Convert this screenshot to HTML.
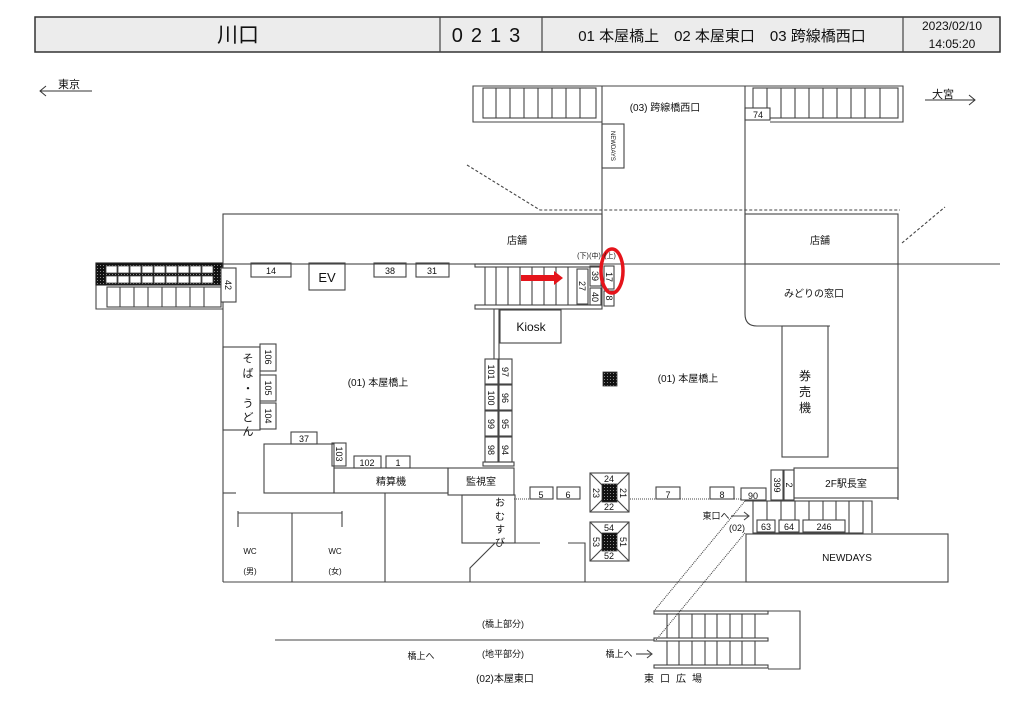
<!DOCTYPE html>
<html><head><meta charset="utf-8"><style>
html,body{margin:0;padding:0;background:#fff;}
svg{display:block;font-family:"Liberation Sans","Noto Sans CJK JP",sans-serif;}
</style></head><body>
<svg width="1024" height="724" viewBox="0 0 1024 724" xmlns="http://www.w3.org/2000/svg">
<defs>
<pattern id="dots" width="3" height="3" patternUnits="userSpaceOnUse"><rect width="3" height="3" fill="#111"/><rect x="1" y="1" width="1" height="1" fill="#888"/></pattern>
</defs>
<g fill="none" stroke="#444" stroke-width="1.2">
<!-- header -->
<rect x="35" y="17" width="965" height="35" fill="#ececec" stroke="#333" stroke-width="1.5"/>
<line x1="440" y1="17" x2="440" y2="52"/><line x1="542" y1="17" x2="542" y2="52"/><line x1="903" y1="17" x2="903" y2="52"/>
</g>
<g font-size="20" text-anchor="middle" fill="#111">
<text x="238" y="42" font-size="21">川口</text>
<text x="490" y="42" letter-spacing="8">0213</text>
<text x="722" y="41" font-size="15">01 本屋橋上　02 本屋東口　03 跨線橋西口</text>
<text x="952" y="30" font-size="12">2023/02/10</text>
<text x="952" y="48" font-size="12">14:05:20</text>
</g>
<g stroke="#333" stroke-width="1" fill="none">
<line x1="40" y1="91" x2="92" y2="91"/><polyline points="46,86 40,91 46,96"/>
<line x1="925" y1="100" x2="975" y2="100"/><polyline points="969,95 975,100 969,105"/>
</g>
<g font-size="11" fill="#111">
<text x="58" y="88">東京</text><text x="932" y="98">大宮</text>
</g>

<g fill="none" stroke="#444" stroke-width="1.1">
<!-- top stairs -->
<polyline points="602,86 473,86 473,122 602,122"/>
<rect x="483" y="88" width="113" height="30"/>
<line x1="496" y1="88" x2="496" y2="118"/><line x1="510" y1="88" x2="510" y2="118"/><line x1="524" y1="88" x2="524" y2="118"/><line x1="538" y1="88" x2="538" y2="118"/><line x1="552" y1="88" x2="552" y2="118"/><line x1="566" y1="88" x2="566" y2="118"/><line x1="580" y1="88" x2="580" y2="118"/>
<line x1="602" y1="86" x2="745" y2="86"/>
<polyline points="745,86 903,86 903,122 770,122"/>
<rect x="753" y="88" width="145" height="30"/>
<line x1="767" y1="88" x2="767" y2="118"/><line x1="781" y1="88" x2="781" y2="118"/><line x1="795" y1="88" x2="795" y2="118"/><line x1="809" y1="88" x2="809" y2="118"/><line x1="823" y1="88" x2="823" y2="118"/><line x1="837" y1="88" x2="837" y2="118"/><line x1="851" y1="88" x2="851" y2="118"/><line x1="865" y1="88" x2="865" y2="118"/><line x1="880" y1="88" x2="880" y2="118"/>
<rect x="745" y="108" width="25" height="12" fill="#fff"/>
<line x1="602" y1="86" x2="602" y2="306"/>
<path d="M745,86 V314 Q745,326 757,326 H830"/>
<rect x="602" y="124" width="22" height="44"/>
<!-- dashed -->
<polyline points="467,165 540,210 900,210" stroke-dasharray="3,2"/>
<line x1="902" y1="243" x2="945" y2="207" stroke-dasharray="3,2"/>
<!-- shops -->
<rect x="223" y="214" width="379" height="50"/>
<rect x="745" y="214" width="153" height="50"/>
<line x1="602" y1="264" x2="1000" y2="264"/>
<line x1="898" y1="264" x2="898" y2="500"/>
<line x1="223" y1="264" x2="223" y2="582"/>
<line x1="223" y1="582" x2="948" y2="582"/>
<!-- left stairs -->
<polyline points="223,309 96,309 96,263 223,263"/>
<rect x="96" y="263" width="126" height="22" fill="url(#dots)" stroke="#222"/>
</g>
<g fill="#fff" stroke="#444" stroke-width="0.8">
<rect x="106" y="266" width="11" height="7"/><rect x="118" y="266" width="11" height="7"/><rect x="130" y="266" width="11" height="7"/><rect x="142" y="266" width="11" height="7"/><rect x="154" y="266" width="11" height="7"/><rect x="166" y="266" width="11" height="7"/><rect x="178" y="266" width="11" height="7"/><rect x="190" y="266" width="11" height="7"/><rect x="202" y="266" width="11" height="7"/>
<rect x="106" y="276" width="11" height="7"/><rect x="118" y="276" width="11" height="7"/><rect x="130" y="276" width="11" height="7"/><rect x="142" y="276" width="11" height="7"/><rect x="154" y="276" width="11" height="7"/><rect x="166" y="276" width="11" height="7"/><rect x="178" y="276" width="11" height="7"/><rect x="190" y="276" width="11" height="7"/><rect x="202" y="276" width="11" height="7"/>
</g>
<g fill="none" stroke="#444" stroke-width="1.1">
<rect x="107" y="287" width="114" height="20"/>
<line x1="120" y1="287" x2="120" y2="307"/><line x1="134" y1="287" x2="134" y2="307"/><line x1="148" y1="287" x2="148" y2="307"/><line x1="162" y1="287" x2="162" y2="307"/><line x1="176" y1="287" x2="176" y2="307"/><line x1="190" y1="287" x2="190" y2="307"/><line x1="204" y1="287" x2="204" y2="307"/>
<rect x="221" y="268" width="15" height="34" fill="#fff"/>
<rect x="251" y="263" width="40" height="14"/>
<rect x="309" y="263" width="36" height="27"/>
<rect x="374" y="263" width="32" height="14"/>
<rect x="416" y="263" width="33" height="14"/>
<!-- center stairs -->
<rect x="475" y="264" width="127" height="3"/>
<rect x="475" y="305" width="127" height="4"/>
<line x1="485" y1="267" x2="485" y2="305"/><line x1="496" y1="267" x2="496" y2="305"/><line x1="508" y1="267" x2="508" y2="305"/><line x1="520" y1="267" x2="520" y2="305"/><line x1="532" y1="267" x2="532" y2="305"/><line x1="544" y1="267" x2="544" y2="305"/><line x1="556" y1="267" x2="556" y2="305"/><line x1="568" y1="267" x2="568" y2="305"/>
<rect x="577" y="269" width="11" height="35"/>
<rect x="590" y="266" width="11" height="20"/>
<rect x="590" y="288" width="11" height="17"/>
<rect x="604" y="266" width="10" height="23"/>
<rect x="604" y="291" width="10" height="15"/>
<rect x="500" y="310" width="61" height="33"/>
<line x1="494" y1="309" x2="494" y2="359"/><line x1="499" y1="309" x2="499" y2="359"/>
<!-- benches -->
<rect x="485" y="359" width="13" height="25"/><rect x="499" y="359" width="13" height="25"/>
<rect x="485" y="385" width="13" height="25"/><rect x="499" y="385" width="13" height="25"/>
<rect x="485" y="411" width="13" height="25"/><rect x="499" y="411" width="13" height="25"/>
<rect x="485" y="437" width="13" height="25"/><rect x="499" y="437" width="13" height="25"/>
<rect x="483" y="462" width="31" height="4"/>
<!-- soba -->
<rect x="223" y="347" width="37" height="83"/>
<rect x="260" y="344" width="16" height="27"/>
<rect x="260" y="375" width="16" height="26"/>
<rect x="260" y="403" width="16" height="26"/>
<rect x="291" y="432" width="26" height="12"/>
<rect x="264" y="444" width="70" height="49"/>
<rect x="332" y="443" width="14" height="23"/>
<rect x="354" y="456" width="27" height="12"/>
<rect x="386" y="456" width="24" height="12"/>
<rect x="334" y="468" width="114" height="25"/>
<rect x="448" y="468" width="66" height="27"/>
<rect x="462" y="495" width="53" height="48"/>
<line x1="223" y1="493" x2="236" y2="493"/>
<line x1="385" y1="493" x2="385" y2="582"/>
<line x1="238" y1="513" x2="342" y2="513"/><line x1="238" y1="511" x2="238" y2="527"/><line x1="342" y1="511" x2="342" y2="527"/>
<line x1="292" y1="513" x2="292" y2="582"/>
<line x1="515" y1="543" x2="540" y2="543"/>
<polyline points="495,543 470,568 470,582"/>
<polyline points="568,543 585,543 585,582"/>
<!-- small boxes -->
<rect x="530" y="487" width="23" height="12"/><rect x="557" y="487" width="23" height="12"/>
<rect x="656" y="487" width="24" height="12"/><rect x="710" y="487" width="24" height="12"/>
<rect x="741" y="488" width="25" height="12"/>
<line x1="514" y1="499" x2="530" y2="499" stroke-dasharray="1,1"/>
<line x1="630" y1="499" x2="741" y2="499" stroke-dasharray="1,1"/>
<!-- pillars -->
<rect x="590" y="473" width="39" height="39"/>
<path d="M590,473 L629,512 M629,473 L590,512"/>
<rect x="590" y="522" width="39" height="39"/>
<path d="M590,522 L629,561 M629,522 L590,561"/>
<!-- right -->
<rect x="782" y="326" width="46" height="131"/>
<rect x="771" y="470" width="12" height="30"/>
<rect x="784" y="470" width="10" height="30"/>
<rect x="794" y="468" width="104" height="30"/>
<polyline points="745,501 872,501 872,533"/>
<rect x="753" y="501" width="110" height="32"/>
<line x1="767" y1="501" x2="767" y2="533"/><line x1="781" y1="501" x2="781" y2="533"/><line x1="795" y1="501" x2="795" y2="533"/><line x1="809" y1="501" x2="809" y2="533"/><line x1="823" y1="501" x2="823" y2="533"/><line x1="836" y1="501" x2="836" y2="533"/><line x1="849" y1="501" x2="849" y2="533"/>
<rect x="757" y="520" width="18" height="12" fill="#fff"/><rect x="779" y="520" width="20" height="12" fill="#fff"/><rect x="803" y="520" width="42" height="12" fill="#fff"/>
<rect x="746" y="534" width="202" height="48"/>
<line x1="745" y1="501" x2="654" y2="611" stroke-dasharray="1,1"/>
<line x1="745" y1="533" x2="656" y2="640" stroke-dasharray="1,1"/>
<!-- bottom stairs -->
<rect x="654" y="611" width="114" height="3"/>
<rect x="654" y="638" width="114" height="3"/>
<rect x="654" y="665" width="114" height="3"/>
<polyline points="768,611 800,611 800,669 768,669"/>
<line x1="667" y1="614" x2="667" y2="638"/><line x1="679" y1="614" x2="679" y2="638"/><line x1="692" y1="614" x2="692" y2="638"/><line x1="705" y1="614" x2="705" y2="638"/><line x1="717" y1="614" x2="717" y2="638"/><line x1="730" y1="614" x2="730" y2="638"/><line x1="742" y1="614" x2="742" y2="638"/><line x1="755" y1="614" x2="755" y2="638"/>
<line x1="667" y1="641" x2="667" y2="665"/><line x1="679" y1="641" x2="679" y2="665"/><line x1="692" y1="641" x2="692" y2="665"/><line x1="705" y1="641" x2="705" y2="665"/><line x1="717" y1="641" x2="717" y2="665"/><line x1="730" y1="641" x2="730" y2="665"/><line x1="742" y1="641" x2="742" y2="665"/><line x1="755" y1="641" x2="755" y2="665"/>
<line x1="275" y1="640" x2="654" y2="640"/>
<line x1="636" y1="654" x2="652" y2="654"/><polyline points="647,650 652,654 647,658"/>
<line x1="731" y1="516" x2="749" y2="516"/><polyline points="744,512 749,516 744,520"/>
</g>
<g fill="url(#dots)" stroke="#333" stroke-width="0.8">
<rect x="603" y="372" width="14" height="14"/>
<rect x="602" y="484" width="15" height="18"/>
<rect x="602" y="533" width="15" height="18"/>
</g>
<!-- red -->
<polygon points="521,275 554,275 554,271 563,278 554,285 554,281 521,281" fill="#e5141b"/>
<ellipse cx="612" cy="271" rx="11" ry="22" fill="none" stroke="#e5141b" stroke-width="3.5"/>

<g fill="#111" font-size="10" text-anchor="middle">
<text x="665" y="111">(03) 跨線橋西口</text>
<text x="517" y="244">店舗</text>
<text x="820" y="244">店舗</text>
<text x="814" y="297">みどりの窓口</text>
<text x="758" y="118" font-size="9">74</text>
<text x="271" y="274" font-size="9">14</text>
<text x="327" y="282" font-size="13">EV</text>
<text x="390" y="274" font-size="9">38</text>
<text x="432" y="274" font-size="9">31</text>
<text x="531" y="331" font-size="12">Kiosk</text>
<text x="378" y="386">(01) 本屋橋上</text>
<text x="688" y="382">(01) 本屋橋上</text>
<text x="304" y="442" font-size="9">37</text>
<text x="367" y="466" font-size="9">102</text>
<text x="398" y="466" font-size="9">1</text>
<text x="391" y="485">精算機</text>
<text x="481" y="485">監視室</text>
<text x="541" y="498" font-size="9">5</text>
<text x="568" y="498" font-size="9">6</text>
<text x="668" y="498" font-size="9">7</text>
<text x="722" y="498" font-size="9">8</text>
<text x="753" y="499" font-size="9">90</text>
<text x="609" y="482" font-size="9">24</text>
<text x="609" y="510" font-size="9">22</text>
<text x="609" y="531" font-size="9">54</text>
<text x="609" y="559" font-size="9">52</text>
<text x="846" y="487">2F駅長室</text>
<text x="766" y="530" font-size="9">63</text>
<text x="789" y="530" font-size="9">64</text>
<text x="824" y="530" font-size="9">246</text>
<text x="847" y="561" font-size="10">NEWDAYS</text>
<text x="716" y="519" font-size="9">東口へ</text>
<text x="737" y="531" font-size="9">(02)</text>
<text x="250" y="554" font-size="8">WC</text><text x="250" y="574" font-size="8">(男)</text>
<text x="335" y="554" font-size="8">WC</text><text x="335" y="574" font-size="8">(女)</text>
<text x="503" y="627" font-size="9">(橋上部分)</text>
<text x="503" y="657" font-size="9">(地平部分)</text>
<text x="421" y="659" font-size="9">橋上へ</text>
<text x="619" y="657" font-size="9">橋上へ</text>
<text x="505" y="682">(02)本屋東口</text>
<text x="676" y="682" letter-spacing="6">東口広場</text>
<text x="805" y="380" font-size="12">券</text><text x="805" y="396" font-size="12">売</text><text x="805" y="412" font-size="12">機</text>
<text x="248" y="362" font-size="11">そ</text><text x="248" y="377" font-size="11">ば</text><text x="248" y="392" font-size="11">・</text><text x="248" y="407" font-size="11">う</text><text x="248" y="421" font-size="11">ど</text><text x="248" y="435" font-size="11">ん</text>
<text x="500" y="506" font-size="10">お</text><text x="500" y="520" font-size="10">む</text><text x="500" y="533" font-size="10">す</text><text x="500" y="546" font-size="10">び</text>
<text x="583" y="258" font-size="7">(下)</text><text x="595" y="258" font-size="7">(中)</text><text x="610" y="258" font-size="7">(上)</text>
</g>
<g fill="#111" font-size="9" text-anchor="middle">
<text transform="translate(228,285) rotate(90)" y="3">42</text>
<text transform="translate(268,357) rotate(90)" y="3">106</text>
<text transform="translate(268,388) rotate(90)" y="3">105</text>
<text transform="translate(268,416) rotate(90)" y="3">104</text>
<text transform="translate(339,454) rotate(90)" y="3">103</text>
<text transform="translate(582,286) rotate(90)" y="3">27</text>
<text transform="translate(595,276) rotate(90)" y="3">39</text>
<text transform="translate(595,297) rotate(90)" y="3">40</text>
<text transform="translate(609,277) rotate(90)" y="3">17</text>
<text transform="translate(609,298) rotate(90)" y="3">8</text>
<text transform="translate(491,372) rotate(90)" y="3">101</text>
<text transform="translate(491,398) rotate(90)" y="3">100</text>
<text transform="translate(491,424) rotate(90)" y="3">99</text>
<text transform="translate(491,450) rotate(90)" y="3">98</text>
<text transform="translate(505,372) rotate(90)" y="3">97</text>
<text transform="translate(505,398) rotate(90)" y="3">96</text>
<text transform="translate(505,424) rotate(90)" y="3">95</text>
<text transform="translate(505,450) rotate(90)" y="3">94</text>
<text transform="translate(596,493) rotate(90)" y="3">23</text>
<text transform="translate(623,493) rotate(90)" y="3">21</text>
<text transform="translate(596,542) rotate(90)" y="3">53</text>
<text transform="translate(623,542) rotate(90)" y="3">51</text>
<text transform="translate(777,485) rotate(90)" y="3">399</text>
<text transform="translate(789,485) rotate(90)" y="3">2</text>
<text transform="translate(613,146) rotate(90)" y="2" font-size="6">NEWDAYS</text>
</g>
</svg>
</body></html>
